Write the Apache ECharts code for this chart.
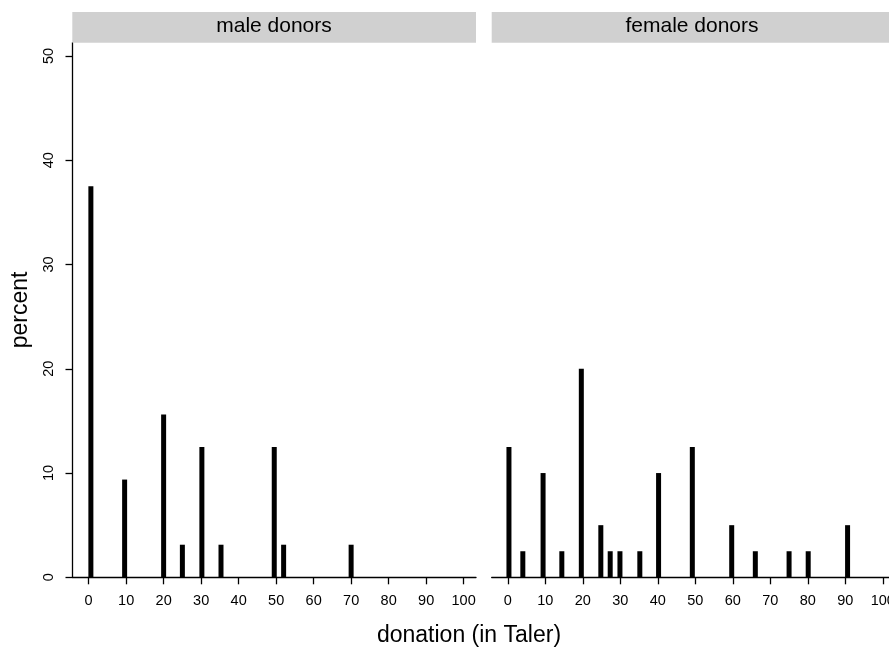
<!DOCTYPE html>
<html><head><meta charset="utf-8">
<script src="https://cdn.jsdelivr.net/npm/echarts@6/dist/echarts.min.js"></script>
<style>html,body{margin:0;padding:0;background:#fff}#c{width:889px;height:648px}</style>
</head><body><div id="c"></div>
<script>
const panelTitles = ['male donors', 'female donors'];
const maleX = [0.6, 9.6, 20, 25, 30.2, 35.3, 49.5, 52, 70];
const maleY = [37.5, 9.375, 15.625, 3.125, 12.5, 3.125, 12.5, 3.125, 3.125];
const femaleX = [0.3, 4, 9.4, 14.4, 19.6, 24.8, 27.3, 29.9, 35.2, 40.2, 49.2, 59.7, 66, 75, 80.1, 90.6];
const femaleY = [12.5, 2.5, 10, 2.5, 20, 5, 2.5, 2.5, 2.5, 10, 12.5, 5, 2.5, 2.5, 2.5, 5];
const xTicks = [0, 10, 20, 30, 40, 50, 60, 70, 80, 90, 100];
const yTicks = [0, 10, 20, 30, 40, 50];
const xTitle = 'donation (in Taler)';
const yTitle = 'percent';

const font = 'Liberation Sans, Arial, sans-serif';
const chart = echarts.init(document.getElementById('c'), null, {renderer: 'canvas'});

const grids = [
  {left: 72.5, top: 42.7, width: 403.5, height: 534.6, outerBoundsMode: 'none', containLabel: false},
  {left: 491.7, top: 42.7, width: 403.5, height: 534.6, outerBoundsMode: 'none', containLabel: false}
];
function xAxis(i) {
  return {
    type: 'value', gridIndex: i, min: -4.3, max: 103.3,
    axisLine: {show: true, onZero: false, lineStyle: {color: '#000', width: 1.3}},
    axisTick: {show: true, length: 7, customValues: xTicks, lineStyle: {color: '#000', width: 1.3}},
    axisLabel: {show: true, customValues: xTicks, color: '#000', fontSize: 14.5, fontFamily: font, margin: 16},
    splitLine: {show: false}
  };
}
function yAxis(i) {
  return {
    type: 'value', gridIndex: i, min: 0, max: 51.28,
    axisLine: {show: i === 0, onZero: false, lineStyle: {color: '#000', width: 1.3}},
    axisTick: {show: i === 0, length: 7, customValues: yTicks, lineStyle: {color: '#000', width: 1.3}},
    axisLabel: {show: i === 0, customValues: yTicks, rotate: 90, color: '#000', fontSize: 14.5, fontFamily: font, margin: 16},
    splitLine: {show: false}
  };
}
function pairs(xs, ys) { return xs.map((x, k) => [x, ys[k]]); }

const option = {
  backgroundColor: '#fff',
  animation: false,
  grid: grids,
  xAxis: [xAxis(0), xAxis(1)],
  yAxis: [yAxis(0), yAxis(1)],
  series: [
    {type: 'bar', xAxisIndex: 0, yAxisIndex: 0, data: pairs(maleX, maleY), barWidth: 5, itemStyle: {color: '#000'}},
    {type: 'bar', xAxisIndex: 1, yAxisIndex: 1, data: pairs(femaleX, femaleY), barWidth: 5, itemStyle: {color: '#000'}}
  ],
  graphic: [
    {type: 'rect', shape: {x: 72.3, y: 12, width: 403.7, height: 30.7}, style: {fill: '#d0d0d0'}, z: 10},
    {type: 'rect', shape: {x: 491.7, y: 12, width: 410, height: 30.7}, style: {fill: '#d0d0d0'}, z: 10},
    {type: 'text', x: 274, y: 26, z: 11, style: {text: panelTitles[0], fill: '#000', font: '21px ' + font, align: 'center', verticalAlign: 'middle'}},
    {type: 'text', x: 692, y: 26, z: 11, style: {text: panelTitles[1], fill: '#000', font: '21px ' + font, align: 'center', verticalAlign: 'middle'}},
    {type: 'text', x: 469, y: 636, z: 11, style: {text: xTitle, fill: '#000', font: '23px ' + font, align: 'center', verticalAlign: 'middle'}},
    {type: 'text', x: 21, y: 310, rotation: Math.PI / 2, z: 11, style: {text: yTitle, fill: '#000', font: '23px ' + font, align: 'center', verticalAlign: 'middle'}}
  ]
};
chart.setOption(option);
</script></body></html>
